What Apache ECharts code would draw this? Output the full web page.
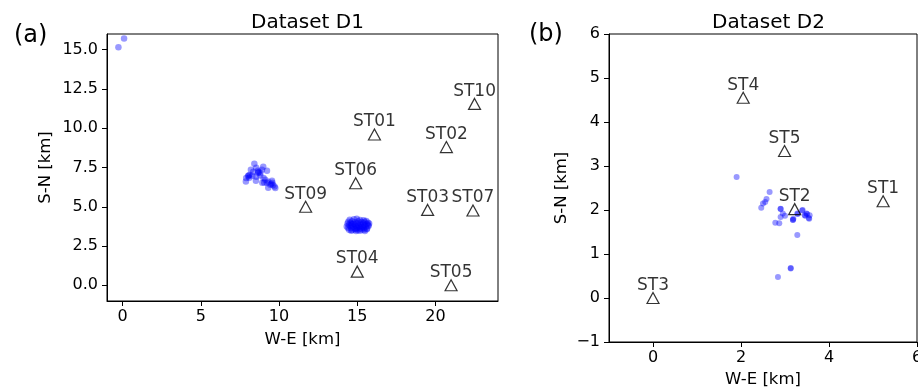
<!DOCTYPE html>
<html>
<head>
<meta charset="utf-8">
<script src="https://cdn.jsdelivr.net/npm/echarts@6/dist/echarts.min.js"></script>
<style>
html,body{margin:0;padding:0;background:#fff;}
#chart{width:918px;height:390px;}
</style>
</head>
<body>
<div id="chart"></div>
<script>
// ---- Data ----
var d1StationNames = ['ST01','ST02','ST10','ST06','ST09','ST03','ST07','ST04','ST05'];
var d1StationX = [16.1, 20.7, 22.5, 14.9, 11.7, 19.5, 22.4, 15.0, 21.0];
var d1StationY = [9.6, 8.8, 11.55, 6.5, 5.0, 4.8, 4.76, 0.87, 0.0];

var d1Events = [
  [-0.27,15.16],[0.09,15.72],
  [8.42,7.74],[8.20,7.36],[8.54,7.49],[8.05,6.99],[7.90,6.83],[7.88,6.61],[8.10,6.85],
  [8.29,6.98],[8.65,7.29],[8.80,7.17],[8.91,7.36],[8.99,7.55],[9.23,7.29],[8.80,6.99],
  [8.54,6.91],[9.01,6.83],[9.12,6.72],[9.23,6.51],[9.31,6.59],[8.93,6.53],[9.44,6.40],
  [9.57,6.53],[9.71,6.29],[9.76,6.19],[9.31,6.21],[8.52,6.66],[9.55,6.66],[8.67,7.17],
  [8.35,7.23],[8.12,7.02],[8.70,7.22],[9.05,6.55],[9.50,6.45],[9.62,6.38],[8.02,6.95],
  [14.52,4.18],[14.78,4.21],[14.97,4.24],[15.18,4.16],[15.41,4.14],[15.58,4.09],
  [14.43,4.04],[14.66,4.07],[14.86,4.02],[15.07,4.08],[15.27,4.03],[15.47,4.05],[15.69,3.98],
  [14.38,3.93],[14.58,3.96],[14.81,3.91],[15.02,3.97],[15.21,3.92],[15.39,3.95],[15.62,3.91],[15.76,3.94],
  [14.47,3.84],[14.64,3.87],[14.88,3.82],[15.06,3.86],[15.24,3.81],[15.46,3.85],[15.71,3.83],
  [14.33,3.74],[14.56,3.77],[14.73,3.72],[14.96,3.76],[15.13,3.71],[15.36,3.75],[15.54,3.73],[15.72,3.77],
  [14.41,3.64],[14.62,3.67],[14.83,3.62],[15.01,3.66],[15.19,3.61],[15.42,3.65],[15.63,3.62],
  [14.48,3.54],[14.67,3.52],[14.87,3.56],[15.04,3.51],[15.27,3.55],[15.44,3.53],[15.61,3.57],
  [14.61,3.47],[14.92,3.46],[15.18,3.48],[15.49,3.46],[14.70,3.90],[15.30,3.70],[14.95,3.60]
];

var d2StationNames = ['ST4','ST5','ST2','ST1','ST3'];
var d2StationX = [2.05, 2.99, 3.22, 5.23, 0.0];
var d2StationY = [4.55, 3.34, 2.02, 2.20, 0.0];

var d2Events = [
  [1.90,2.75],[2.65,2.41],[2.58,2.25],[2.50,2.15],[2.46,2.05],[2.55,2.18],
  [2.90,2.02],[2.90,2.03],[2.95,1.92],[3.00,1.87],[2.90,1.84],[2.78,1.71],[2.87,1.70],
  [3.18,1.77],[3.18,1.78],[3.19,1.80],[3.28,1.92],[3.29,1.91],[3.39,1.99],[3.40,2.00],
  [3.49,1.92],[3.50,1.91],[3.56,1.88],[3.55,1.80],[3.54,1.82],[3.45,1.88],[3.46,1.87],
  [3.28,1.43],[3.13,0.67],[3.13,0.68],[2.84,0.48]
];

var d1XTicks = [0,5,10,15,20];
var d1YTicks = [0,2.5,5,7.5,10,12.5,15];
var d2XTicks = [0,2,4,6];

// ---- Chart ----
var FONT = 'DejaVu Sans';
function stations(names, xs, ys){
  return names.map(function(n,i){ return {name:n, value:[xs[i], ys[i]]}; });
}
function axisCommon(){
  return {
    axisLine:{show:true, onZero:false, lineStyle:{color:'#000', width:1}},
    axisTick:{show:true, inside:false, length:5, lineStyle:{color:'#000', width:1}},
    axisLabel:{color:'#000', fontFamily:FONT, fontSize:16},
    splitLine:{show:false},
    nameTextStyle:{color:'#000', fontFamily:FONT, fontSize:16.5},
    nameLocation:'middle'
  };
}
function mk(extra){
  var a = axisCommon();
  for (var k in extra){
    if (typeof extra[k]==='object' && a[k] && !Array.isArray(extra[k])){
      for (var j in extra[k]) a[k][j]=extra[k][j];
    } else a[k]=extra[k];
  }
  return a;
}

var chart = echarts.init(document.getElementById('chart'), null, {renderer:'canvas'});
var evStyle = {color:'rgba(0,0,255,0.5)'};
var stLabel = {show:true, position:'top', distance:-2, formatter:'{b}', color:'#000', fontFamily:FONT, fontSize:17};
var stStyle = {color:'rgba(255,255,255,0)', borderColor:'#000', borderWidth:1.2};

chart.setOption({
  animation:false,
  backgroundColor:'#fff',
  title:[
    {text:'Dataset D1', left:302.5, top:8, textAlign:'center', textStyle:{fontFamily:FONT, fontSize:20, fontWeight:'normal', color:'#000'}},
    {text:'Dataset D2', left:763.5, top:8, textAlign:'center', textStyle:{fontFamily:FONT, fontSize:20, fontWeight:'normal', color:'#000'}},
    {text:'(a)', left:9, top:19, textStyle:{fontFamily:FONT, fontSize:24, fontWeight:'normal', color:'#000'}},
    {text:'(b)', left:524, top:18, textStyle:{fontFamily:FONT, fontSize:24, fontWeight:'normal', color:'#000'}}
  ],
  grid:[
    {left:107, top:34, width:391, height:267, show:true, borderColor:'#000', borderWidth:1, backgroundColor:'transparent', containLabel:false, outerBoundsMode:'none'},
    {left:609, top:34, width:308, height:308, show:true, borderColor:'#000', borderWidth:1, backgroundColor:'transparent', containLabel:false, outerBoundsMode:'none'}
  ],
  xAxis:[
    mk({gridIndex:0, type:'value', min:-1, max:24, name:'W-E [km]', nameGap:30,
        axisLabel:{margin:8, customValues:d1XTicks, formatter:function(v){return String(v);}},
        axisTick:{customValues:d1XTicks}}),
    mk({gridIndex:1, type:'value', min:-1, max:6, name:'W-E [km]', nameGap:28,
        axisLabel:{margin:8, customValues:d2XTicks, formatter:function(v){return String(v);}},
        axisTick:{customValues:d2XTicks}})
  ],
  yAxis:[
    mk({gridIndex:0, type:'value', min:-1, max:16, name:'S-N [km]', nameGap:53, nameRotate:90,
        axisLabel:{margin:9, customValues:d1YTicks, formatter:function(v){return v.toFixed(1);}},
        axisTick:{customValues:d1YTicks}}),
    mk({gridIndex:1, type:'value', min:-1, max:6, interval:1, name:'S-N [km]', nameGap:39, nameRotate:90,
        axisLabel:{margin:9, formatter:function(v){return String(v).replace('-', '\u2212');}}})
  ],
  series:[
    {type:'scatter', xAxisIndex:0, yAxisIndex:0, symbol:'circle', symbolSize:6.5, itemStyle:evStyle, data:d1Events, z:2},
    {type:'scatter', xAxisIndex:0, yAxisIndex:0, symbol:'triangle', symbolSize:[12,11], itemStyle:stStyle, label:stLabel, data:stations(d1StationNames,d1StationX,d1StationY), z:3},
    {type:'scatter', xAxisIndex:1, yAxisIndex:1, symbol:'circle', symbolSize:6, itemStyle:evStyle, data:d2Events, z:2},
    {type:'scatter', xAxisIndex:1, yAxisIndex:1, symbol:'triangle', symbolSize:[12,11], itemStyle:stStyle, label:stLabel, data:stations(d2StationNames,d2StationX,d2StationY), z:3}
  ]
});
</script>
</body>
</html>
